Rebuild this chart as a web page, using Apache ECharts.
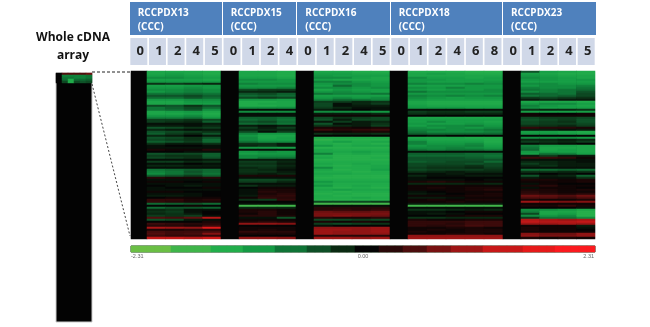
<!DOCTYPE html>
<html><head><meta charset="utf-8">
<style>html,body{margin:0;padding:0;background:#fff}#c{width:650px;height:327px}</style>
<script src="https://cdn.jsdelivr.net/npm/echarts@6/dist/echarts.min.js"></script>
</head><body><div id="c"></div>
<script>
const sampleLabels = ['0','1','2','4','5','0','1','2','4','0','1','2','4','5','0','1','2','4','6','8','0','1','2','4','5'];
const panelNames = ['RCCPDX13','RCCPDX15','RCCPDX16','RCCPDX18','RCCPDX23'];
const scaleColors = ['#6bbf45','#3fb54a','#22ae4b','#149a44','#0f7436','#0e4f26','#0a2a12','#040404','#2a0808','#4c0d0d','#781111','#9e1515','#c81818','#e61a1a','#fb1a1f'];
const scaleLabels = ['-2.31','0.00','2.31'];
const colorBarValues = [-2.31,-2.31,-2.31,-2.31,-2.31,-1.98,-1.98,-1.98,-1.98,-1.98,-1.65,-1.65,-1.65,-1.65,-1.32,-1.32,-1.32,-1.32,-.99,-.99,-.99,-.99,-.66,-.66,-.66,-.33,-.33,-.33,0,0,0,.33,.33,.33,.66,.66,.66,.99,.99,.99,1.32,1.32,1.32,1.32,1.65,1.65,1.65,1.65,1.65,1.98,1.98,1.98,1.98,2.31,2.31,2.31,2.31,2.31];
const wholeArrayTop = [[0,.7,.7,.7,.7,.9],[0,-1.1,-1.1,-1.1,-1.1,-1],[0,-1,-1,-1.1,-1.1,-1],[0,-.9,-1.6,-.9,-.9,-.8],[0,-.6,-1.6,-.6,-.7,-.6]];
const pdx13 = [
[-1.5,-1.5,-1.5,-1.6],[-1.5,-1.4,-1.5,-1.6],[-1.4,-1.3,-1.4,-1.5],[-1.2,-1.2,-1.3,-1.4],[-1.4,-1.4,-1.4,-1.5],[-1.3,-1.3,-1.3,-1.3],[-.4,-.5,-.4,-.3],
[-1.4,-1.4,-1.3,-1.3],[-1.3,-1.3,-1.2,-1.3],[-1.2,-1.2,-1.1,-1.2],[-1.3,-1.2,-1.1,-1.2],[-1,-1,-.9,-1],[-.7,-.7,-.6,-.8],[-.9,-.9,-.7,-.9],
[-1.3,-1.3,-1.2,-1.2],[-1.5,-1.5,-1.3,-1.3],[-1.5,-1.5,-1.4,-1.4],[-.6,-.7,-.4,-.7],[-1,-.8,-.6,-.9],[-1,-.9,-.7,-1.2],[-1.5,-1.4,-1.3,-1.5],
[-1.5,-1.5,-1.4,-1.6],[-1.3,-1.3,-1.2,-1.5],[-1.1,-1.1,-1,-1.3],[-.5,-.5,-.4,-.6],[-.5,-.4,-.3,-.8],[-.1,-.1,-.1,-.2],[-.2,-.2,-.1,-.3],
[-.7,-.6,-.4,-.5],[-.3,-.2,-.1,-.2],[-.7,-.6,-.5,-.4],[-.8,-.5,-.3,-.7],[-.3,-.2,0,-.2],[-.7,-.6,-.4,-.7],[-.6,-.5,-.4,-.9],[-.8,-.7,-.5,-.9],
[-.4,-.2,-.2,-.4],[-.1,0,0,-.1],[-.1,-.1,-.1,-.1],[.2,.1,.1,.3],[0,0,-.1,-.1],[-.7,-.6,-.6,-.8],[-.5,-.4,-.4,-.8],[-.6,-.5,-.4,-.7],
[-.1,-.1,-.1,-.2],[-.5,-.5,-.3,-.4],[-.1,-.1,0,-.1],[-.3,-.3,-.2,-.2],[-.1,-.1,-.1,-.1],[-1,-.9,-.8,-.9],[-1.1,-1,-.7,-.9],[-1.2,-1,-.8,-1],
[-.8,-.7,-.5,-.8],[.3,.2,.2,.3],[-.1,-.1,-.1,-.1],[.1,.1,0,.1],[-.1,-.1,-.1,-.1],[0,-.1,-.2,-.1],[-.1,0,0,.1],[-.1,-.1,-.1,-.1],
[.1,.1,0,0],[-.1,-.1,-.1,0],[-.2,-.2,-.1,0],[0,.1,.1,.1],[.4,.4,.2,.3],[.4,.3,.2,.2],[-.9,-.8,-.7,-.9],[0,0,.1,0],
[-.9,-.7,-.7,-.8],[-.3,-.4,-.1,-.1],[-.4,-.5,-.1,0],[-.3,-.4,-.2,0],[-.5,-.4,-.5,-.1],[.7,.6,.8,1.5],[-.7,-.6,-.2,-.1],[0,0,0,.2],
[.5,.4,.3,.3],[.3,.3,.2,.5],[1.4,1.3,1.2,1.9],[.2,.2,.3,.3],[.6,.5,.5,.6],[.7,.5,.6,1.1],[.5,.4,.4,.4],[1.6,1.6,1.5,1.7]];
const pdx15 = [
[-1.5,-1.5,-1.6],[-1.5,-1.5,-1.6],[-1.5,-1.5,-1.6],[-1.4,-1.4,-1.5],[-1.2,-1.2,-1.3],[-1.3,-1.3,-1.3],[-1.1,-1.2,-1.2],[-1.3,-1.3,-1.3],[-1.2,-1.2,-1.1],
[-.6,-.5,-.5],[-.3,-.3,-.2],[-.7,-.6,-.8],[-.9,-.8,-.9],[-.6,-.5,-.6],[-1.3,-1.3,-1.4],[-1.6,-1.6,-1.5],[-1.6,-1.5,-1.5],[-1.6,-1.6,-1.5],[-1.2,-1.2,-1.2],
[-.1,-.1,-.1],[-1.2,-1.2,-1.2],[-.1,-.1,-.1],[-.1,-.1,-.1],[-.8,-.8,-.9],[-.9,-.8,-1],[-.7,-.6,-.9],[-.9,-.8,-1],[-.2,-.1,-.2],
[-.5,-.2,-.5],[-.3,-.3,-.3],[-.6,-.1,-.5],[-1.1,-1.3,-1.3],[-1.3,-1.5,-1.5],[-1.2,-1.5,-1.4],[-1.2,-1.4,-1.4],[-1,-1.2,-1.2],[-.4,-.4,-.2],[-.3,-.4,-.2],
[-1.3,-1.3,-1.4],[-.1,-.1,-.1],[-1.3,-1.2,-1.3],[-1.4,-1.3,-1.3],[-1.2,-1.2,-1.2],[-1.2,-1,-1],[-.2,-.2,-.2],[-.5,-.5,-.3],[-.4,-.4,-.2],[-.5,-.5,-.3],
[-.3,-.4,-.2],[-.4,-.3,-.1],[-.4,-.4,-.2],[-.3,-.2,-.3],[.2,.2,.2],[-.1,-.1,-.1],[-.6,-.6,-.5],[-.5,-.5,-.3],[-.1,-.1,-.1],[-.4,-.2,-.2],
[0,.1,.1],[-.1,.2,.2],[-.1,.3,.2],[-.1,.2,.3],[-.2,.3,.4],[.1,.4,.3],[-.4,-.5,.4],[0,0,0],[-.1,-.1,-.1],[-2,-2,-2],[-.3,-.3,-.3],
[.2,.2,.1],[.2,.3,.1],[.1,.3,.1],[.3,.3,.2],[-.1,-.1,-.7],[.1,.1,.1],[.2,.3,.2],[1.2,1.2,1.1],[0,0,0],[.1,.1,.1],
[.1,.2,.1],[.4,.3,.3],[.2,.2,.2],[0,0,0],[1.2,1.2,1.1]];
const pdx16 = [
[-1.5,-1.5,-1.6,-1.6],[-1.4,-1.4,-1.5,-1.5],[-1.3,-1.4,-1.4,-1.4],[-1.2,-1.2,-1.4,-1.5],[-1.4,-1.5,-1.5,-1.5],[-1.1,-1.1,-1.3,-1.4],[-1.3,-1.2,-1.2,-1.3],[-1.4,-.9,-1.2,-1.3],
[-1.2,-1.2,-1.3,-1.2],[-1.5,-1.3,-1.4,-1.4],[-1.3,-1.2,-1.3,-1.4],[-1,-1.1,-1.1,-1],[-1.4,-1.4,-1.4,-1.4],[-1.3,-1.2,-1.3,-1.2],[-1.1,-.9,-1,-1.1],
[-.5,-.5,-.3,-.4],[-.6,-.1,-.3,-.5],[-.6,-.1,-.2,-.2],[-.5,-.3,-.1,-.1],[-.2,-.1,0,-.1],[-1.2,-1.2,-1.2,-1.3],[-.2,-.2,-.2,-.3],[.1,.1,.1,.1],
[-.6,-.4,-.5,-.6],[-.7,-.2,-.6,-.6],[-.2,-.5,-.2,-.3],[-.7,-.1,-.2,-.4],[-.4,-.3,-.2,-.5],[.2,.2,.1,.2],[.5,.3,.4,.5],[.1,.1,.2,.2],[-.4,-.3,-.3,-.4],[0,0,0,0],
[-1.6,-1.6,-1.6,-1.6],[-1.8,-1.7,-1.7,-1.7],[-1.6,-1.4,-1.6,-1.5],[-1.6,-1.7,-1.6,-1.7],[-1.3,-1.6,-1.5,-1.5],[-1.7,-1.7,-1.7,-1.7],[-1.5,-1.6,-1.6,-1.6],[-1.5,-1.5,-1.4,-1.5],
[-1.1,-1.6,-1.5,-1.6],[-1.6,-1.7,-1.7,-1.7],[-1.5,-1.7,-1.7,-1.6],[-1.7,-1.7,-1.7,-1.7],[-1.6,-1.6,-1.6,-1.6],[-1.5,-1.6,-1.5,-1.6],[-1.6,-1.7,-1.6,-1.5],[-1.2,-1.6,-1.6,-1.5],
[-1.5,-1.7,-1.6,-1.4],[-1.6,-1.6,-1.7,-1.6],[-1.5,-1.5,-1.6,-1.6],[-1.6,-1.7,-1.7,-1.7],[-1.7,-1.7,-1.7,-1.7],[-1.6,-1.6,-1.6,-1.6],[-1.3,-1.5,-1.5,-1.5],[-1.5,-1.6,-1.6,-1.6],
[-1.3,-1.6,-1.5,-1.6],[-1.6,-1.7,-1.6,-1.7],[-1.5,-1.4,-1.5,-1.5],[-1.6,-1.7,-1.6,-1.6],[-1.7,-1.6,-1.7,-1.7],[-1.6,-1.7,-1.7,-1.7],[-1.6,-1.6,-1.5,-1.6],[-1.7,-1.7,-1.7,-1.7],
[-.6,-.6,-.6,-.5],[-2,-2,-2,-2],[-.1,-.1,-.1,-.1],[.3,.3,.3,.3],[.3,.4,.3,.4],[.9,.8,.8,.9],[1,1,1,1],[1,1.1,1,.9],[.3,.2,.2,.3],
[-.6,-.6,-.5,-.6],[.2,.1,.2,.1],[-.5,-.6,-.5,-.4],[-.1,0,0,0],[1.2,1.2,1.2,1.3],[1.3,1.3,1.2,1.3],[1.3,1.2,1.2,1.3],[1.3,1.2,1.2,1.2],[.3,.3,.3,.3],[1.3,1.3,1.2,1.3]];
const pdx18 = [
[-1.6,-1.6,-1.6,-1.7,-1.7],[-1.5,-1.4,-1.5,-1.6,-1.6],[-1.5,-1.5,-1.5,-1.5,-1.5],[-1.2,-1.4,-1.4,-1.5,-1.4],[-1.3,-1.3,-1.4,-1.4,-1.4],[-1.3,-1.4,-1.4,-1.4,-1.3],[-1.1,-1.2,-1.2,-1.1,-1.2],
[-1.4,-1.4,-1.4,-1.3,-1.3],[-1.2,-1.3,-1.1,-1.3,-1.3],[-1.3,-1.4,-1.3,-1.3,-1.2],[-1,-1.2,-1.2,-1.2,-1.2],[-1.3,-1.3,-1.3,-1.3,-1.3],[-1.1,-1.2,-1.1,-1.2,-1.1],[-1.2,-1.3,-1.4,-1.3,-1.3],
[-1.3,-1.4,-1.4,-1.4,-1.4],[-1.5,-1.6,-1.6,-1.6,-1.6],[-1.5,-1.6,-1.6,-1.6,-1.6],[-1.4,-1.5,-1.5,-1.5,-1.5],[-1.3,-1.3,-1.3,-1.4,-1.4],[-.1,-.1,-.1,-.1,-.1],[-.5,-.4,-.4,-.5,-.5],[-.4,-.3,-.3,-.3,-.3],[0,0,0,0,0],
[-1.5,-1.5,-1.5,-1.5,-1.5],[-1.4,-1.4,-1.4,-1.4,-1.4],[-1.4,-1.2,-1.4,-1.4,-1.5],[-1.3,-1.4,-1.4,-1.3,-1.4],[-1.4,-1.2,-1.2,-1.1,-1.3],[-1.2,-1.3,-1.2,-1.3,-1.2],[-1.1,-1.1,-1.2,-1.1,-1],[-1,-1.2,-1.2,-1.2,-1.1],[-.8,-.9,-.9,-.9,-.9],[0,-.1,0,0,0],
[-1.5,-1.5,-1.5,-1.6,-1.6],[-1.4,-1.5,-1.5,-1.5,-1.6],[-1.1,-1.4,-1.4,-1.4,-1.6],[-1.1,-1.3,-1.3,-1.2,-1.5],[-1.3,-1.2,-1.2,-1.1,-1.4],[-1.2,-1.2,-1.1,-1.2,-1.3],[-1,-1.1,-1,-1,-1.1],[-.1,-.1,-.1,-.1,-.1],
[-.8,-.8,-.8,-.9,-.9],[-.9,-.9,-.9,-.9,-1],[-.7,-.7,-.7,-.8,-.9],[-.7,-.7,-.7,-.7,-.7],[-.8,-.7,-.6,-.6,-.9],[-.6,-.6,-.6,-.7,-.6],[-.6,-.5,-.5,-.4,-.6],[-.5,-.4,-.4,-.3,-.5],[-.6,-.5,-.5,-.5,-.4],
[-.4,-.3,-.2,-.3,-.3],[-.1,-.1,-.2,-.1,-.1],[-.3,-.1,-.1,-.2,-.2],[-.1,0,0,0,0],[-.1,-.1,-.1,0,-.1],[.2,.3,.2,.1,.1],[-.3,-.3,-.3,-.2,-.3],[.1,.1,.1,.1,.1],
[.1,.2,.1,.2,.2],[.1,.1,.1,.2,.3],[-.1,0,.1,.1,.1],[-.2,-.1,0,.1,.2],[.1,.1,.1,.2,.2],[-.2,-.2,-.1,.1,.1],[.1,.2,.1,.2,.2],[.1,.1,.2,.1,.1],[-.2,-.2,-.2,-.2,-.2],[-2,-2,-2,-2,-2],[-.1,-.1,-.1,-.1,-.1],
[-.4,-.4,-.3,-.2,-.3],[-.1,-.1,0,.1,.1],[-.1,-.2,-.1,0,0],[0,0,.1,.2,.2],[-.4,-.4,-.3,-.3,-.3],[.2,.1,.1,.2,.2],[.4,.4,.4,.5,.5],[.4,.4,.3,.5,.5],[.4,.3,.4,.6,.5],
[.1,.1,.2,.2,.1],[.1,.2,.1,.2,.2],[.2,.1,.1,.2,.2],[.1,.1,.2,.2,.1],[1.2,1.2,1.2,1.2,1.2],[1.3,1.3,1.3,1.3,1.3]];
const pdx23 = [
[-.7,-1.4,-1.5,-1.6],[-1.4,-1.5,-1.6,-1.6],[-1.3,-1.4,-1.5,-1.5],[-1.2,-1.3,-1.4,-1.5],[-1.3,-1.3,-1.4,-1.3],[-1.4,-1.4,-1.4,-1.4],[-1.2,-1.2,-1.3,-1.3],[-1.3,-1.2,-1.2,-1.1],[-1.1,-1.2,-1.2,-1],
[-1,-1.1,-1,-.9],[-1.2,-1.1,-1,-.7],[-.8,-.9,-1,-.6],[-1,-.9,-.8,-.6],[-.5,-.6,-.5,-.4],[-.2,-.3,-.2,-.2],[-1.5,-1.5,-1.5,-1.6],[-1.3,-1.2,-1.2,-1.4],[-1.1,-1.3,-1.4,-1.5],[-1.2,-1.4,-1.4,-1.4],[-.4,-.3,-.3,-.4],
[-1.4,-1.4,-1.4,-1.4],[.1,0,0,.1],[.1,.1,.1,.1],[-.6,-.5,-.5,-.6],[-.7,-.6,-.5,-.7],[-.6,-.5,-.4,-.7],[-.6,-.5,-.5,-.6],[-.4,-.4,-.3,-.5],[.4,.3,.3,.2],[-.2,-.2,-.1,-.2],
[-1.4,-1.4,-1.5,-1.6],[-1.3,-1.3,-1.4,-1.5],[0,0,0,0],[-1.2,-1.2,-1.2,-1.3],[-.3,-.3,-.2,-.3],[-.5,-.4,-.3,-.5],[-.1,-.2,-.1,0],[-1.1,-1.4,-1.4,-1.5],[-1,-1.5,-1.5,-1.5],[-.9,-1.5,-1.4,-1.5],
[-1.3,-1.4,-1.4,-1.5],[-1.4,-1,-1.1,-1.4],[-.2,-.5,-.2,-.2],[.5,.5,.4,.1],[-.1,-.1,-.1,-.1],[-.3,-.3,-.2,-.1],[-.5,-.3,-.2,-.2],[-.3,-.4,-.2,-.2],[-.1,-.1,-.1,-.1],[-.9,-.9,-.8,-.9],[-.4,-.4,-.3,-.4],[-.1,0,-.1,0],
[-.7,-.2,-.3,-.8],[-.2,-.1,-.1,-.4],[.2,.2,.1,.2],[.1,.1,.1,.2],[-.1,.1,0,0],[.2,.3,.1,.1],[-.1,.1,.1,0],[.2,.2,.1,.2],[.3,.2,.1,.1],[.4,.3,.2,.3],[.9,.8,.7,.9],
[.7,.7,.5,.7],[.2,.1,.1,.2],[1.3,1.1,1,1.1],[.1,.1,.1,.1],[.2,.2,.4,.2],[0,0,0,-.1],[-1.2,-1.2,-1.3,-1.5],[-1.1,-1.5,-1.5,-1.7],[-.6,-1.5,-1.4,-1.7],[-1.2,-1.3,-1.2,-1.7],
[-.5,-1,-1,-1.2],[1.5,1.4,1.3,1.4],[1.6,1.5,1.5,1.6],[1.3,1.3,1.4,1.3],[.1,.1,.1,-.2],[.2,.1,.1,-.1],[.2,.1,.1,0],[.1,.1,.1,.1],[1.1,.9,.9,1.2],[1.2,1,1,1.2],[.2,.1,.2,.1],[1.4,1.3,1.3,1.4]];
const panels = [pdx13,pdx15,pdx16,pdx18,pdx23];

// layout (pixels of the 650x327 frame)
const baseStart = [131,221,296,390,503];
const dataStart = [147,239,314,408,521];
const dataEnd   = [221,296,390,503,595];
const boxLeft   = [130,223,297,391,503];
const boxRight  = [222,296,390,502,596];
const textInset = [7.7,7.7,8.3,7.7,8];

const rowCount = pdx13.length;
const rowIds = Array.from({length:rowCount},(_,i)=>i);
const wholeRowIds = Array.from({length:125},(_,i)=>i);
const hiddenAxis = {axisLine:{show:false},axisTick:{show:false},axisLabel:{show:false},splitLine:{show:false}};

const grids = [], xAxes = [], yAxes = [], series = [];
function addHeat(grid, xData, yData, data, yInverse){
  const idx = grids.length;
  grids.push(grid);
  xAxes.push(Object.assign({type:'category',gridIndex:idx,data:xData},hiddenAxis));
  yAxes.push(Object.assign({type:'category',gridIndex:idx,inverse:yInverse,data:yData},hiddenAxis));
  series.push({type:'heatmap',xAxisIndex:idx,yAxisIndex:idx,data:data,progressive:0,emphasis:{disabled:true}});
}
panels.forEach((rows,p)=>{
  const base = [], vals = [];
  rows.forEach((row,r)=>{
    base.push([0,r,0]);
    row.forEach((v,i)=>vals.push([i,r,v]));
  });
  addHeat({left:baseStart[p],top:71,width:dataStart[p]-baseStart[p],height:168,show:true,backgroundColor:'#040404',borderWidth:0},[0],rowIds,base,true);
  addHeat({left:dataStart[p],top:71,width:dataEnd[p]-dataStart[p],height:168,show:true,backgroundColor:'#040404',borderWidth:0},rows[0].map((_,i)=>i),rowIds,vals,true);
});
addHeat({left:131,top:246,width:464,height:6,show:true,borderColor:'#1d3a1d',borderWidth:1},colorBarValues.map((_,i)=>i),['scale'],colorBarValues.map((v,i)=>[i,0,v]),false);
const wholeData = [];
wholeArrayTop.forEach((row,r)=>row.forEach((v,i)=>wholeData.push([i,r,v])));
addHeat({left:56,top:73,width:36,height:249,show:true,backgroundColor:'#030303',borderColor:'#ccc',borderWidth:1},[0,1,2,3,4,5],wholeRowIds,wholeData,true);
const heatCount = series.length;

// sample-time tick labels live on one full-width category axis
const lblIdx = grids.length;
grids.push({left:129.5,top:71,width:466,height:168,show:false});
xAxes.push({type:'category',gridIndex:lblIdx,position:'top',data:sampleLabels,axisLine:{show:false},axisTick:{show:false},splitLine:{show:false},
  axisLabel:{show:true,interval:0,margin:6,fontFamily:'Open Sans',fontWeight:'bold',fontSize:13,color:'#222',backgroundColor:'#d0d8e8',width:14,padding:[0,0,0,3],height:27,lineHeight:27,align:'center'}});
yAxes.push(Object.assign({type:'value',gridIndex:lblIdx},hiddenAxis));

const gfx = [];
panelNames.forEach((name,p)=>{
  gfx.push({type:'rect',shape:{x:boxLeft[p],y:2,width:boxRight[p]-boxLeft[p],height:33},style:{fill:'#4f81bd'}});
  gfx.push({type:'text',x:boxLeft[p]+textInset[p],y:6.5,style:{text:name+'\n(CCC)',fill:'#fff',font:'bold 10px "Open Sans"',lineHeight:13.5}});
});
gfx.push({type:'line',shape:{x1:92,y1:72,x2:131,y2:72},style:{stroke:'#222',lineDash:[3,2],lineWidth:1}});
gfx.push({type:'line',shape:{x1:92,y1:84,x2:130,y2:236},style:{stroke:'#444',lineDash:[2,2],lineWidth:1}});
const lblStyle = {fill:'#666',font:'5.5px "Liberation Sans"'};
gfx.push({type:'text',x:131,y:253,style:Object.assign({text:scaleLabels[0]},lblStyle)});
gfx.push({type:'text',x:363,y:253,style:Object.assign({text:scaleLabels[1],align:'center'},lblStyle)});
gfx.push({type:'text',x:594,y:253,style:Object.assign({text:scaleLabels[2],align:'right'},lblStyle)});

const chart = echarts.init(document.getElementById('c'),null,{renderer:'canvas'});
chart.setOption({
  animation:false,
  backgroundColor:'#fff',
  title:{text:'Whole cDNA\narray',left:68,top:24,textAlign:'center',textStyle:{fontFamily:'Open Sans',fontWeight:'bold',fontSize:12,lineHeight:18,color:'#111'}},
  visualMap:{type:'continuous',show:false,min:-2.31,max:2.31,seriesIndex:series.map((_,i)=>i),inRange:{color:scaleColors}},
  grid:grids, xAxis:xAxes, yAxis:yAxes, series:series,
  graphic:gfx
});
</script></body></html>
